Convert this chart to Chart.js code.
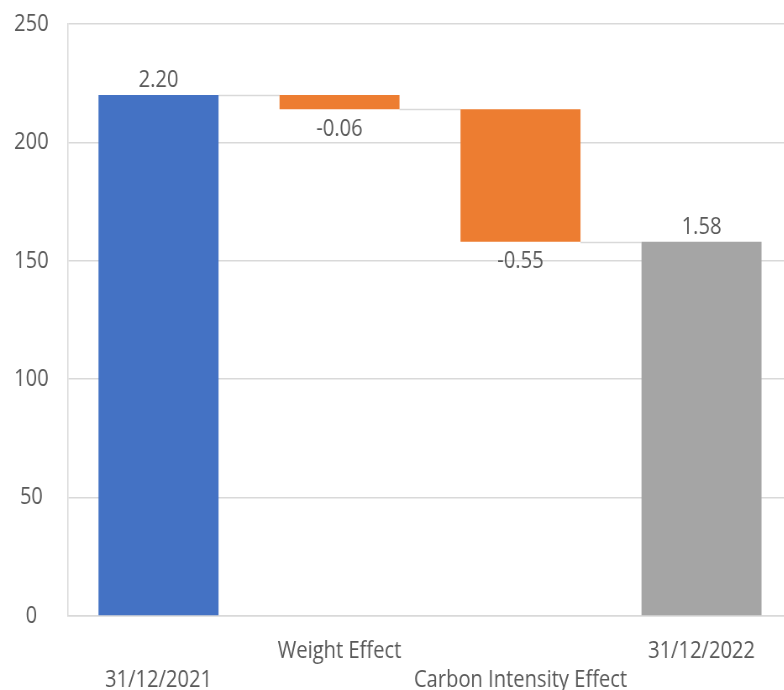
<!DOCTYPE html>
<html>
<head>
<meta charset="utf-8">
<script src="https://cdn.jsdelivr.net/npm/chart.js@4.4.1/dist/chart.umd.min.js"></script>
<style>
  html, body { margin: 0; padding: 0; background: #fff; overflow: hidden; width: 784px; height: 690px; }
  #wrap { position: absolute; left: 0; top: 0; width: 960px; height: 690px; transform: scaleX(0.84); transform-origin: 0 0; }
</style>
</head>
<body>
<div id="wrap"><canvas id="c" width="960" height="690"></canvas></div>
<script>
const categories = ['31/12/2021', 'Weight Effect', 'Carbon Intensity Effect', '31/12/2022'];
const barStart = [0, 214, 158, 0];
const barEnd = [220, 220, 214, 158];
const valueLabels = ['2.20', '-0.06', '-0.55', '1.58'];
const labelAbove = [true, false, false, true];
const barColors = ['#4472C4', '#ED7D31', '#ED7D31', '#A5A5A5'];
const yTicks = [0, 50, 100, 150, 200, 250];

const FONT = "'Open Sans', 'Noto Sans', sans-serif";
const TEXT = '#595959';
const SX = 0.84;

const tickLabels = categories.map((c, i) => (i % 2 === 0 ? ['', c] : [c, '']));

const waterfallPlugin = {
  id: 'waterfall',
  beforeDatasetsDraw(chart) {
    const ctx = chart.ctx;
    const meta = chart.getDatasetMeta(0);
    const y = chart.scales.y;
    ctx.save();
    ctx.strokeStyle = '#D9D9D9';
    ctx.lineWidth = 1.5;
    for (let i = 0; i < meta.data.length - 1; i++) {
      const a = meta.data[i], b = meta.data[i + 1];
      const shared = [barStart[i], barEnd[i]].find(v => v === barStart[i + 1] || v === barEnd[i + 1]);
      const py = Math.round(y.getPixelForValue(shared)) + 0.5;
      ctx.beginPath();
      ctx.moveTo(a.x + a.width / 2, py);
      ctx.lineTo(b.x - b.width / 2, py);
      ctx.stroke();
    }
    ctx.restore();
  },
  afterDatasetsDraw(chart) {
    const ctx = chart.ctx;
    const meta = chart.getDatasetMeta(0);
    const y = chart.scales.y;
    ctx.save();
    ctx.font = '24px ' + FONT;
    ctx.fillStyle = TEXT;
    ctx.textAlign = 'center';
    ctx.textBaseline = 'middle';
    meta.data.forEach((el, i) => {
      if (labelAbove[i]) {
        ctx.fillText(valueLabels[i], el.x, y.getPixelForValue(barEnd[i]) - 15);
      } else {
        ctx.fillText(valueLabels[i], el.x, y.getPixelForValue(barStart[i]) + 19.5);
      }
    });
    ctx.restore();
  }
};

new Chart(document.getElementById('c'), {
  type: 'bar',
  data: {
    labels: tickLabels,
    datasets: [{
      data: categories.map((c, i) => [barStart[i], barEnd[i]]),
      backgroundColor: barColors,
      borderWidth: 0,
      categoryPercentage: 1,
      barPercentage: 0.663
    }]
  },
  options: {
    responsive: false,
    animation: false,
    devicePixelRatio: 1,
    layout: { padding: { top: 24, right: 960 - 792 / SX, left: 0, bottom: 0 } },
    plugins: { legend: { display: false }, tooltip: { enabled: false } },
    scales: {
      x: {
        grid: { display: false, drawTicks: false },
        border: { display: true, color: '#D9D9D9', width: 1.5 },
        ticks: {
          color: TEXT, font: { family: FONT, size: 24, lineHeight: 29 / 24 },
          maxRotation: 0, minRotation: 0, autoSkip: false, padding: 21
        },
        afterFit(s) { s.height = 74; s.paddingLeft = 0; s.paddingRight = 0; }
      },
      y: {
        min: 0, max: 250,
        afterBuildTicks(s) { s.ticks = yTicks.map(v => ({ value: v })); },
        grid: { color: '#D9D9D9', lineWidth: 1.5, drawTicks: false },
        border: { display: true, color: '#D9D9D9', width: 1.5 },
        ticks: {
          color: TEXT, font: { family: FONT, size: 24 },
          crossAlign: 'center', padding: 23
        },
        afterFit(s) { s.width = 68 / SX; s.paddingTop = 0; s.paddingBottom = 0; }
      }
    }
  },
  plugins: [waterfallPlugin]
});
</script>
</body>
</html>
